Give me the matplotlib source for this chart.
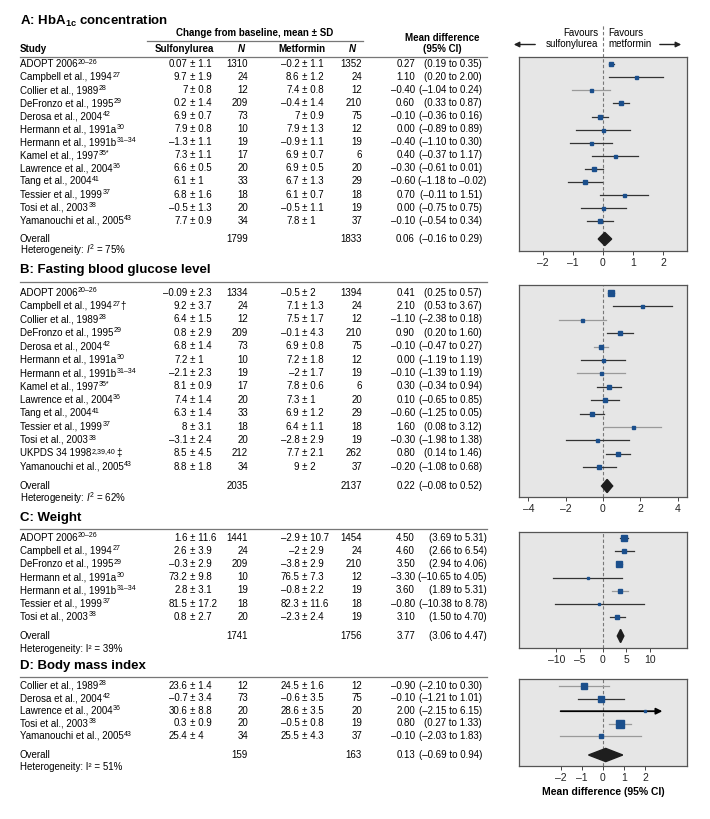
import numpy as np
import matplotlib
matplotlib.use("Agg")
from matplotlib import pyplot as plt
from matplotlib.patches import Polygon

plt.rcParams["font.family"] = ["Liberation Sans", "DejaVu Sans"]
plt.rcParams["mathtext.fontset"] = "custom"
plt.rcParams["mathtext.rm"] = "Liberation Sans"
plt.rcParams["mathtext.it"] = "Liberation Sans:italic"
plt.rcParams["mathtext.bf"] = "Liberation Sans:bold"

# study labels: "name^superscript|suffix"
# ---- A: HbA1c ----
studies_a = ["ADOPT 2006^20\u201326", "Campbell et al., 1994^27", "Collier et al., 1989^28",
             "DeFronzo et al., 1995^29", "Derosa et al., 2004^42", "Hermann et al., 1991a^30",
             "Hermann et al., 1991b^31\u201334", "Kamel et al., 1997^35*", "Lawrence et al., 2004^36",
             "Tang et al., 2004^41", "Tessier et al., 1999^37", "Tosi et al., 2003^38",
             "Yamanouchi et al., 2005^43"]
sulf_mean_a = [0.07, 9.7, 7, 0.2, 6.9, 7.9, -1.3, 7.3, 6.6, 6.1, 6.8, -0.5, 7.7]
sulf_sd_a = [1.1, 1.9, 0.8, 1.4, 0.7, 0.8, 1.1, 1.1, 0.5, 1, 1.6, 1.3, 0.9]
sulf_n_a = [1310, 24, 12, 209, 73, 10, 19, 17, 20, 33, 18, 20, 34]
met_mean_a = [-0.2, 8.6, 7.4, -0.4, 7, 7.9, -0.9, 6.9, 6.9, 6.7, 6.1, -0.5, 7.8]
met_sd_a = [1.1, 1.2, 0.8, 1.4, 0.9, 1.3, 1.1, 0.7, 0.5, 1.3, 0.7, 1.1, 1]
met_n_a = [1352, 24, 12, 210, 75, 12, 19, 6, 20, 29, 18, 19, 37]
md_a = [0.27, 1.10, -0.40, 0.60, -0.10, 0.00, -0.40, 0.40, -0.30, -0.60, 0.70, 0.00, -0.10]
lo_a = [0.19, 0.20, -1.04, 0.33, -0.36, -0.89, -1.10, -0.37, -0.61, -1.18, -0.11, -0.75, -0.54]
hi_a = [0.35, 2.00, 0.24, 0.87, 0.16, 0.89, 0.30, 1.17, 0.01, -0.02, 1.51, 0.75, 0.34]
overall_a = [1799, 1833, 0.06, -0.16, 0.29]
i2_a = 75
ticks_a = [-2, -1, 0, 1, 2]

# ---- B: fasting blood glucose ----
studies_b = ["ADOPT 2006^20\u201326", "Campbell et al., 1994^27|\u2020", "Collier et al., 1989^28",
             "DeFronzo et al., 1995^29", "Derosa et al., 2004^42", "Hermann et al., 1991a^30",
             "Hermann et al., 1991b^31\u201334", "Kamel et al., 1997^35*", "Lawrence et al., 2004^36",
             "Tang et al., 2004^41", "Tessier et al., 1999^37", "Tosi et al., 2003^38",
             "UKPDS 34 1998^2,39,40|\u2021", "Yamanouchi et al., 2005^43"]
sulf_mean_b = [-0.09, 9.2, 6.4, 0.8, 6.8, 7.2, -2.1, 8.1, 7.4, 6.3, 8, -3.1, 8.5, 8.8]
sulf_sd_b = [2.3, 3.7, 1.5, 2.9, 1.4, 1, 2.3, 0.9, 1.4, 1.4, 3.1, 2.4, 4.5, 1.8]
sulf_n_b = [1334, 24, 12, 209, 73, 10, 19, 17, 20, 33, 18, 20, 212, 34]
met_mean_b = [-0.5, 7.1, 7.5, -0.1, 6.9, 7.2, -2, 7.8, 7.3, 6.9, 6.4, -2.8, 7.7, 9]
met_sd_b = [2, 1.3, 1.7, 4.3, 0.8, 1.8, 1.7, 0.6, 1, 1.2, 1.1, 2.9, 2.1, 2]
met_n_b = [1394, 24, 12, 210, 75, 12, 19, 6, 20, 29, 18, 19, 262, 37]
md_b = [0.41, 2.10, -1.10, 0.90, -0.10, 0.00, -0.10, 0.30, 0.10, -0.60, 1.60, -0.30, 0.80, -0.20]
lo_b = [0.25, 0.53, -2.38, 0.20, -0.47, -1.19, -1.39, -0.34, -0.65, -1.25, 0.08, -1.98, 0.14, -1.08]
hi_b = [0.57, 3.67, 0.18, 1.60, 0.27, 1.19, 1.19, 0.94, 0.85, 0.05, 3.12, 1.38, 1.46, 0.68]
overall_b = [2035, 2137, 0.22, -0.08, 0.52]
i2_b = 62
ticks_b = [-4, -2, 0, 2, 4]

# ---- C: weight ----
studies_c = ["ADOPT 2006^20\u201326", "Campbell et al., 1994^27", "DeFronzo et al., 1995^29",
             "Hermann et al., 1991a^30", "Hermann et al., 1991b^31\u201334",
             "Tessier et al., 1999^37", "Tosi et al., 2003^38"]
sulf_mean_c = [1.6, 2.6, -0.3, 73.2, 2.8, 81.5, 0.8]
sulf_sd_c = [11.6, 3.9, 2.9, 9.8, 3.1, 17.2, 2.7]
sulf_n_c = [1441, 24, 209, 10, 19, 18, 20]
met_mean_c = [-2.9, -2, -3.8, 76.5, -0.8, 82.3, -2.3]
met_sd_c = [10.7, 2.9, 2.9, 7.3, 2.2, 11.6, 2.4]
met_n_c = [1454, 24, 210, 12, 19, 18, 19]
md_c = [4.50, 4.60, 3.50, -3.30, 3.60, -0.80, 3.10]
lo_c = [3.69, 2.66, 2.94, -10.65, 1.89, -10.38, 1.50]
hi_c = [5.31, 6.54, 4.06, 4.05, 5.31, 8.78, 4.70]
overall_c = [1741, 1756, 3.77, 3.06, 4.47]
i2_c = 39
ticks_c = [-10, -5, 0, 5, 10]

# ---- D: body mass index ----
studies_d = ["Collier et al., 1989^28", "Derosa et al., 2004^42", "Lawrence et al., 2004^36",
             "Tosi et al., 2003^38", "Yamanouchi et al., 2005^43"]
sulf_mean_d = [23.6, -0.7, 30.6, 0.3, 25.4]
sulf_sd_d = [1.4, 3.4, 8.8, 0.9, 4]
sulf_n_d = [12, 73, 20, 20, 34]
met_mean_d = [24.5, -0.6, 28.6, -0.5, 25.5]
met_sd_d = [1.6, 3.5, 3.5, 0.8, 4.3]
met_n_d = [12, 75, 20, 19, 37]
md_d = [-0.90, -0.10, 2.00, 0.80, -0.10]
lo_d = [-2.10, -1.21, -2.15, 0.27, -2.03]
hi_d = [0.30, 1.01, 6.15, 1.33, 1.83]
overall_d = [159, 163, 0.13, -0.69, 0.94]
i2_d = 51
ticks_d = [-2, -1, 0, 1, 2]

# ---- styling: square sizes (px) and grey CI flags ----
sq_a = [4.8, 3, 3, 4.8, 4.6, 3, 3, 3, 4.2, 3.6, 3, 3, 3.6]
grey_a = [0, 0, 1, 0, 0, 0, 0, 0, 0, 0, 0, 0, 0]
sq_b = [5.2, 3, 3, 4.2, 4.8, 3, 3, 4.2, 4.2, 4.2, 3, 3, 4.2, 3.6]
grey_b = [0, 0, 1, 0, 1, 0, 1, 0, 0, 0, 1, 0, 0, 0]
sq_c = [6.2, 3.6, 6.8, 2.4, 4.6, 2.4, 4.2]
grey_c = [0, 0, 0, 0, 1, 0, 0]
sq_d = [5.2, 5.2, 2.4, 7.2, 4.6]
grey_d = [1, 0, 0, 1, 1]

W, H = 710, 819
BLUE = "#1b4f8c"
DARK = "#333333"
GREY = "#9a9a9a"
FS = 7
BOX_L, BOX_R = 519, 687
PM_S, PM_M = 190, 302      # x of the +/- sign in the two mean columns
N_S, N_M = 248, 362
EST_X = 415
RULE_L, RULE_R = 20, 487


def fmt(v):
    return f"{v:g}".replace("-", "\u2013")


def fmt2(v):
    return f"{v:.2f}".replace("-", "\u2013")


def put_label(tab, r, x, y, s):
    base, _, rest = s.partition("^")
    sup, _, tail = rest.partition("|")
    t = tab.text(x, y, base, fontsize=FS, va="baseline")
    if sup:
        x1 = t.get_window_extent(r).x1
        ts = tab.text(x1 + 0.4, y - 3.4, sup, fontsize=5, va="baseline")
        if tail:
            x2 = ts.get_window_extent(r).x1
            tab.text(x2 + 0.6, y, tail, fontsize=FS, va="baseline")


def put_ci(tab, r, y, lo, hi, ci_x):
    t = tab.text(ci_x, y, f"({fmt2(lo)} to {fmt2(hi)})", fontsize=FS, va="baseline", ha="right")
    x0 = t.get_window_extent(r).x0
    if x0 < EST_X + 2.5:
        t.set_ha("left")
        t.set_x(EST_X + 2.5)


def add_forest(fig, top, bottom, lim, ticks):
    ax = fig.add_axes([BOX_L / W, 1 - bottom / H, (BOX_R - BOX_L) / W, (bottom - top) / H])
    ax.set_xlim(-lim, lim)
    ax.set_ylim(bottom, top)
    ax.set_facecolor("#e6e6e6")
    for s in ax.spines.values():
        s.set_color("#555555")
        s.set_linewidth(0.9)
    ax.set_yticks([])
    ax.set_xticks(ticks)
    ax.set_xticklabels([fmt(t) for t in ticks])
    ax.tick_params(axis="x", direction="out", length=3, width=0.7, color="#444444",
                   labelsize=7.5, labelcolor="#222222", pad=2)
    ax.axvline(0, color="#777777", lw=0.8, ls=(0, (3, 2)), zorder=1)
    return ax


def panel(fig, tab, r, p):
    tab.text(RULE_L, p["title_y"], p["title"], fontsize=9.5, fontweight="bold", va="center", ha="left")
    if p.get("rule_y"):
        tab.plot([RULE_L, RULE_R], [p["rule_y"], p["rule_y"]], color="#777777", lw=0.9)
    ax = add_forest(fig, p["box"][0], p["box"][1], p["lim"], p["ticks"])
    n = len(p["studies"])
    ys = [p["y0"] + p["pitch"] * i for i in range(n)]
    for i in range(n):
        yb = ys[i] + 2.6
        put_label(tab, r, RULE_L, yb, p["studies"][i])
        tab.text(PM_S - 2.5, yb, fmt(p["sm"][i]), fontsize=FS, va="baseline", ha="right")
        tab.text(PM_S, yb, "\u00b1 " + fmt(p["ssd"][i]), fontsize=FS, va="baseline", ha="left")
        tab.text(N_S, yb, str(p["sn"][i]), fontsize=FS, va="baseline", ha="right")
        tab.text(PM_M - 2.5, yb, fmt(p["mm"][i]), fontsize=FS, va="baseline", ha="right")
        tab.text(PM_M, yb, "\u00b1 " + fmt(p["msd"][i]), fontsize=FS, va="baseline", ha="left")
        tab.text(N_M, yb, str(p["mn"][i]), fontsize=FS, va="baseline", ha="right")
        tab.text(EST_X, yb, fmt2(p["md"][i]), fontsize=FS, va="baseline", ha="right")
        put_ci(tab, r, yb, p["lo"][i], p["hi"][i], p["ci_x"])

        col = GREY if p["grey"][i] else DARK
        if p["hi"][i] > p["lim"]:
            ax.annotate("", xy=(p["lim"] * 0.74, ys[i]), xytext=(p["lo"][i], ys[i]),
                        arrowprops=dict(arrowstyle="-|>", color="black", lw=1.3, mutation_scale=9))
        else:
            ax.plot([p["lo"][i], p["hi"][i]], [ys[i], ys[i]], color=col, lw=0.9, zorder=2)
        ax.plot(p["md"][i], ys[i], marker="s", ms=p["sq"][i] * 0.72, color=BLUE, mec=BLUE, zorder=3)

    tot = p["overall"]
    yo = p["oy"] + 2.6
    tab.text(RULE_L, yo, "Overall", fontsize=FS, va="baseline")
    tab.text(N_S, yo, str(tot[0]), fontsize=FS, va="baseline", ha="right")
    tab.text(N_M, yo, str(tot[1]), fontsize=FS, va="baseline", ha="right")
    tab.text(EST_X, yo, fmt2(tot[2]), fontsize=FS, va="baseline", ha="right")
    put_ci(tab, r, yo, tot[3], tot[4], p["ci_x"])
    isym = "$\\mathit{I}^{2}$" if p["italic"] else "I\u00b2"
    tab.text(RULE_L, p["oy"] + 15.5, f"Heterogeneity: {isym} = {p['i2']}%", fontsize=FS, va="baseline")
    dh = 6.6
    ax.add_patch(Polygon([(tot[3], p["oy"]), (tot[2], p["oy"] - dh), (tot[4], p["oy"]), (tot[2], p["oy"] + dh)],
                         closed=True, color="#1e1e1e", zorder=3))
    return ax


def main():
    fig = plt.figure(figsize=(W / 100, H / 100), dpi=100)
    r = fig.canvas.get_renderer()
    tab = fig.add_axes([0, 0, 1, 1])
    tab.set_xlim(0, W)
    tab.set_ylim(H, 0)
    tab.axis("off")

    # table header
    tab.text(255, 33, "Change from baseline, mean \u00b1 SD", fontsize=FS, fontweight="bold", ha="center", va="center")
    tab.plot([147, 363], [40.5, 40.5], color="#777777", lw=0.9)
    tab.text(RULE_L, 49, "Study", fontsize=FS, fontweight="bold", va="center")
    tab.text(184, 49, "Sulfonylurea", fontsize=FS, fontweight="bold", ha="center", va="center")
    tab.text(N_S - 3, 49, "N", fontsize=FS, fontweight="bold", style="italic", ha="right", va="center")
    tab.text(302, 49, "Metformin", fontsize=FS, fontweight="bold", ha="center", va="center")
    tab.text(N_M - 6, 49, "N", fontsize=FS, fontweight="bold", style="italic", ha="right", va="center")
    tab.text(442, 38, "Mean difference", fontsize=FS, fontweight="bold", ha="center", va="center")
    tab.text(442, 49, "(95% CI)", fontsize=FS, fontweight="bold", ha="center", va="center")
    tab.plot([RULE_L, RULE_R], [57, 57], color="#777777", lw=0.9)

    panels = [
        dict(title="A: HbA$_{\\mathbf{1c}}$ concentration", title_y=21, rule_y=None, box=(57, 251), lim=2.8,
             ticks=ticks_a, y0=64.3, pitch=13.06, oy=239, ci_x=482, studies=studies_a, sm=sulf_mean_a,
             ssd=sulf_sd_a, sn=sulf_n_a, mm=met_mean_a, msd=met_sd_a, mn=met_n_a, md=md_a, lo=lo_a, hi=hi_a,
             overall=overall_a, i2=i2_a, sq=sq_a, grey=grey_a, italic=True),
        dict(title="B: Fasting blood glucose level", title_y=270, rule_y=282, box=(285, 497), lim=4.5,
             ticks=ticks_b, y0=293, pitch=13.4, oy=486, ci_x=482, studies=studies_b, sm=sulf_mean_b,
             ssd=sulf_sd_b, sn=sulf_n_b, mm=met_mean_b, msd=met_sd_b, mn=met_n_b, md=md_b, lo=lo_b, hi=hi_b,
             overall=overall_b, i2=i2_b, sq=sq_b, grey=grey_b, italic=True),
        dict(title="C: Weight", title_y=518, rule_y=529, box=(532, 648), lim=18,
             ticks=ticks_c, y0=538, pitch=13.2, oy=636, ci_x=487, studies=studies_c, sm=sulf_mean_c,
             ssd=sulf_sd_c, sn=sulf_n_c, mm=met_mean_c, msd=met_sd_c, mn=met_n_c, md=md_c, lo=lo_c, hi=hi_c,
             overall=overall_c, i2=i2_c, sq=sq_c, grey=grey_c, italic=False),
        dict(title="D: Body mass index", title_y=666, rule_y=677, box=(679, 766), lim=4,
             ticks=ticks_d, y0=686, pitch=12.6, oy=755, ci_x=482, studies=studies_d, sm=sulf_mean_d,
             ssd=sulf_sd_d, sn=sulf_n_d, mm=met_mean_d, msd=met_sd_d, mn=met_n_d, md=md_d, lo=lo_d, hi=hi_d,
             overall=overall_d, i2=i2_d, sq=sq_d, grey=grey_d, italic=False),
    ]
    axes = [panel(fig, tab, r, p) for p in panels]

    # favours header above panel A
    ax_a = axes[0]
    ax_a.plot([0, 0], [57, 25], color="#777777", lw=0.8, ls=(0, (3, 2)), clip_on=False)
    tab.text(598, 33, "Favours", fontsize=FS, ha="right", va="center")
    tab.text(598, 44, "sulfonylurea", fontsize=FS, ha="right", va="center")
    tab.text(608, 33, "Favours", fontsize=FS, ha="left", va="center")
    tab.text(608, 44, "metformin", fontsize=FS, ha="left", va="center")
    tab.annotate("", xy=(511, 44.5), xytext=(538, 44.5),
                 arrowprops=dict(arrowstyle="-|>", color="#222222", lw=1.0, mutation_scale=8))
    tab.annotate("", xy=(684, 44.5), xytext=(657, 44.5),
                 arrowprops=dict(arrowstyle="-|>", color="#222222", lw=1.0, mutation_scale=8))

    tab.text((BOX_L + BOX_R) / 2, 792, "Mean difference (95% CI)", fontsize=7.5, fontweight="bold",
             ha="center", va="center")

    fig.savefig("out.png", dpi=100)
    plt.close(fig)


if __name__ == "__main__":
    main()
